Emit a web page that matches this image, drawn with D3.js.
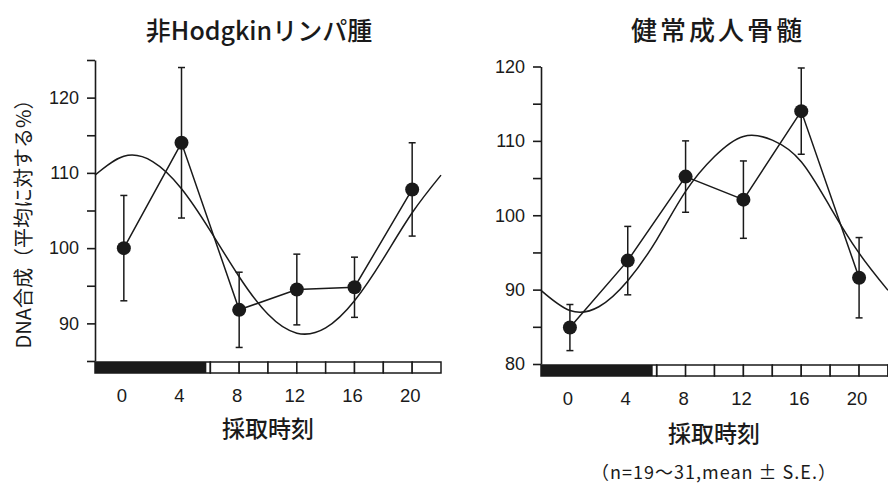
<!DOCTYPE html>
<html>
<head>
<meta charset="utf-8">
<script src="https://cdn.jsdelivr.net/npm/d3@7/dist/d3.min.js"></script>
<style>
  body { margin: 0; background: #fff; }
  svg { display: block; }
  .tick text { font-family: "Liberation Sans", Arial, sans-serif; }
</style>
</head>
<body>
<svg id="chart" width="888" height="483"></svg>
<script>
// Sampling times (hour of day) and the x tick labels
const sampleHours = [0, 4, 8, 12, 16, 20];
const hourTicks = [0, 4, 8, 12, 16, 20];
// Hours at which the fitted rhythm curve is read
const fitHours = [-2, 0, 2, 4, 6, 8, 10, 12, 14, 16, 18, 20, 22];

// Non-Hodgkin lymphoma: DNA synthesis, % of the daily mean
const nhlTitle = "非Hodgkinリンパ腫";
const nhlMean = [100.0, 114.0, 91.8, 94.5, 94.8, 107.8];
const nhlSE   = [7.0, 10.0, 5.0, 4.7, 4.0, 6.2];
const nhlFit  = [109.7, 112.2, 111.5, 107.9, 102.3, 96.2, 91.2, 88.7, 89.4, 93.0, 98.6, 104.7, 109.7];
const nhlYTicks = [85, 90, 95, 100, 105, 110, 115, 120, 125];

// Healthy adult bone marrow
const bmTitle = "健常成人骨髄";
const bmMean = [84.9, 93.9, 105.2, 102.1, 114.0, 91.6];
const bmSE   = [3.1, 4.6, 4.8, 5.2, 5.8, 5.4];
const bmFit  = [89.9, 87.2, 87.7, 91.2, 96.7, 103.2, 107.9, 110.6, 110.1, 107.2, 101.1, 94.9, 89.9];
const bmYTicks = [80, 85, 90, 95, 100, 105, 110, 115, 120];

// Light/dark schedule under the x axis (hours)
const darkPeriod = [-2, 6];
const nhlLightEdges = [6, 8, 10, 12, 14, 16, 18, 20, 22];
const bmLightEdges = [6, 8, 10, 12, 14, 16, 18, 20, 22, 24];

const yLabel = "DNA合成（平均に対する%）";
const xLabel = "採取時刻";
const noteText = "（n=19〜31,mean ± S.E.）";

const svg = d3.select("#chart");
const ink = "#1a1a1a";
const sans = "'Liberation Sans', Arial, sans-serif";
const cjk = "'Noto Sans CJK JP', 'Noto Sans', sans-serif";

function panel(opt) {
  const x = d3.scaleLinear().domain([-2, 22]).range(opt.xRange);
  const y = d3.scaleLinear().domain(opt.yDomain).range(opt.yRange);
  const g = svg.append("g");

  // title
  g.append("text")
    .attr("x", opt.titleX).attr("y", 40)
    .attr("text-anchor", "middle")
    .attr("font-family", cjk).attr("font-size", opt.titleSize)
    .attr("font-weight", 500)
    .attr("letter-spacing", opt.titleSpacing)
    .attr("fill", ink)
    .text(opt.title);

  // y axis: labelled every 10, minor every 5
  const yAxis = d3.axisLeft(y)
    .tickValues(opt.yTicks)
    .tickSize(8).tickSizeOuter(0).tickPadding(8)
    .tickFormat(d => d % 10 === 0 ? d : "");
  const ya = g.append("g")
    .attr("transform", `translate(${opt.xRange[0]},0)`)
    .call(yAxis);
  ya.selectAll("path, line").attr("stroke", ink).attr("stroke-width", 1.6);
  ya.selectAll("text").attr("font-size", 18).attr("fill", ink);

  // light/dark bar
  const barTop = opt.yRange[0] + 1, barH = 11;
  g.append("rect")
    .attr("x", x(darkPeriod[0])).attr("y", barTop)
    .attr("width", x(darkPeriod[1]) - x(darkPeriod[0]) - 4).attr("height", barH)
    .attr("fill", ink);
  g.selectAll(".cell").data(d3.pairs(opt.lightEdges)).join("rect")
    .attr("x", d => x(d[0])).attr("y", barTop)
    .attr("width", d => x(d[1]) - x(d[0])).attr("height", barH)
    .attr("fill", "#fff").attr("stroke", ink).attr("stroke-width", 1.5);
  g.append("rect")
    .attr("x", x(darkPeriod[0])).attr("y", barTop)
    .attr("width", x(darkPeriod[1]) - x(darkPeriod[0])).attr("height", barH)
    .attr("fill", "none").attr("stroke", ink).attr("stroke-width", 1.5);

  // x tick labels
  g.selectAll(".xl").data(hourTicks).join("text")
    .attr("x", d => x(d) - 2).attr("y", opt.xLabelY)
    .attr("text-anchor", "middle")
    .attr("font-family", sans).attr("font-size", 18.5).attr("fill", ink)
    .text(d => d);

  // x axis title
  g.append("text")
    .attr("x", opt.xTitleX).attr("y", opt.xTitleY)
    .attr("text-anchor", "middle")
    .attr("font-family", cjk).attr("font-size", 23).attr("font-weight", 500)
    .attr("fill", ink)
    .text(xLabel);

  // fitted rhythm curve
  const fitLine = d3.line()
    .x((d, i) => x(fitHours[i])).y(d => y(d))
    .curve(d3.curveNatural);
  g.append("path").datum(opt.fit)
    .attr("d", fitLine)
    .attr("fill", "none").attr("stroke", ink).attr("stroke-width", 1.5);

  // observed means connected
  const obsLine = d3.line()
    .x((d, i) => x(sampleHours[i])).y(d => y(d));
  g.append("path").datum(opt.mean)
    .attr("d", obsLine)
    .attr("fill", "none").attr("stroke", ink).attr("stroke-width", 1.5);

  // error bars (mean ± SE)
  const pts = opt.mean.map((m, i) => ({ t: sampleHours[i], m, se: opt.se[i] }));
  const eb = g.selectAll(".eb").data(pts).join("g");
  eb.append("line")
    .attr("x1", d => x(d.t)).attr("x2", d => x(d.t))
    .attr("y1", d => y(d.m - d.se)).attr("y2", d => y(d.m + d.se))
    .attr("stroke", ink).attr("stroke-width", 1.5);
  [-1, 1].forEach(s => {
    eb.append("line")
      .attr("x1", d => x(d.t) - 3.5).attr("x2", d => x(d.t) + 3.5)
      .attr("y1", d => y(d.m + s * d.se)).attr("y2", d => y(d.m + s * d.se))
      .attr("stroke", ink).attr("stroke-width", 1.5);
  });

  // mean markers
  g.selectAll(".pt").data(pts).join("circle")
    .attr("cx", d => x(d.t)).attr("cy", d => y(d.m))
    .attr("r", 7).attr("fill", ink);
}

panel({
  title: nhlTitle, titleX: 259, titleSize: 25, titleSpacing: 0,
  xRange: [95, 441], yDomain: [85, 125], yRange: [361, 60],
  yTicks: nhlYTicks, mean: nhlMean, se: nhlSE, fit: nhlFit,
  lightEdges: nhlLightEdges,
  xLabelY: 402, xTitleX: 268, xTitleY: 437
});

panel({
  title: bmTitle, titleX: 718, titleSize: 26, titleSpacing: 3,
  xRange: [541, 888], yDomain: [80, 120], yRange: [364, 66.5],
  yTicks: bmYTicks, mean: bmMean, se: bmSE, fit: bmFit,
  lightEdges: bmLightEdges,
  xLabelY: 405, xTitleX: 714, xTitleY: 442
});

// shared y axis label
svg.append("text")
  .attr("transform", "translate(31,219) rotate(-90)")
  .attr("text-anchor", "middle")
  .attr("font-family", cjk).attr("font-size", 20).attr("fill", ink)
  .text(yLabel);

// sample size note
svg.append("text")
  .attr("x", 714).attr("y", 479)
  .attr("text-anchor", "middle")
  .attr("font-family", cjk).attr("font-size", 18).attr("letter-spacing", 1)
  .attr("fill", ink)
  .text(noteText);
</script>
</body>
</html>
